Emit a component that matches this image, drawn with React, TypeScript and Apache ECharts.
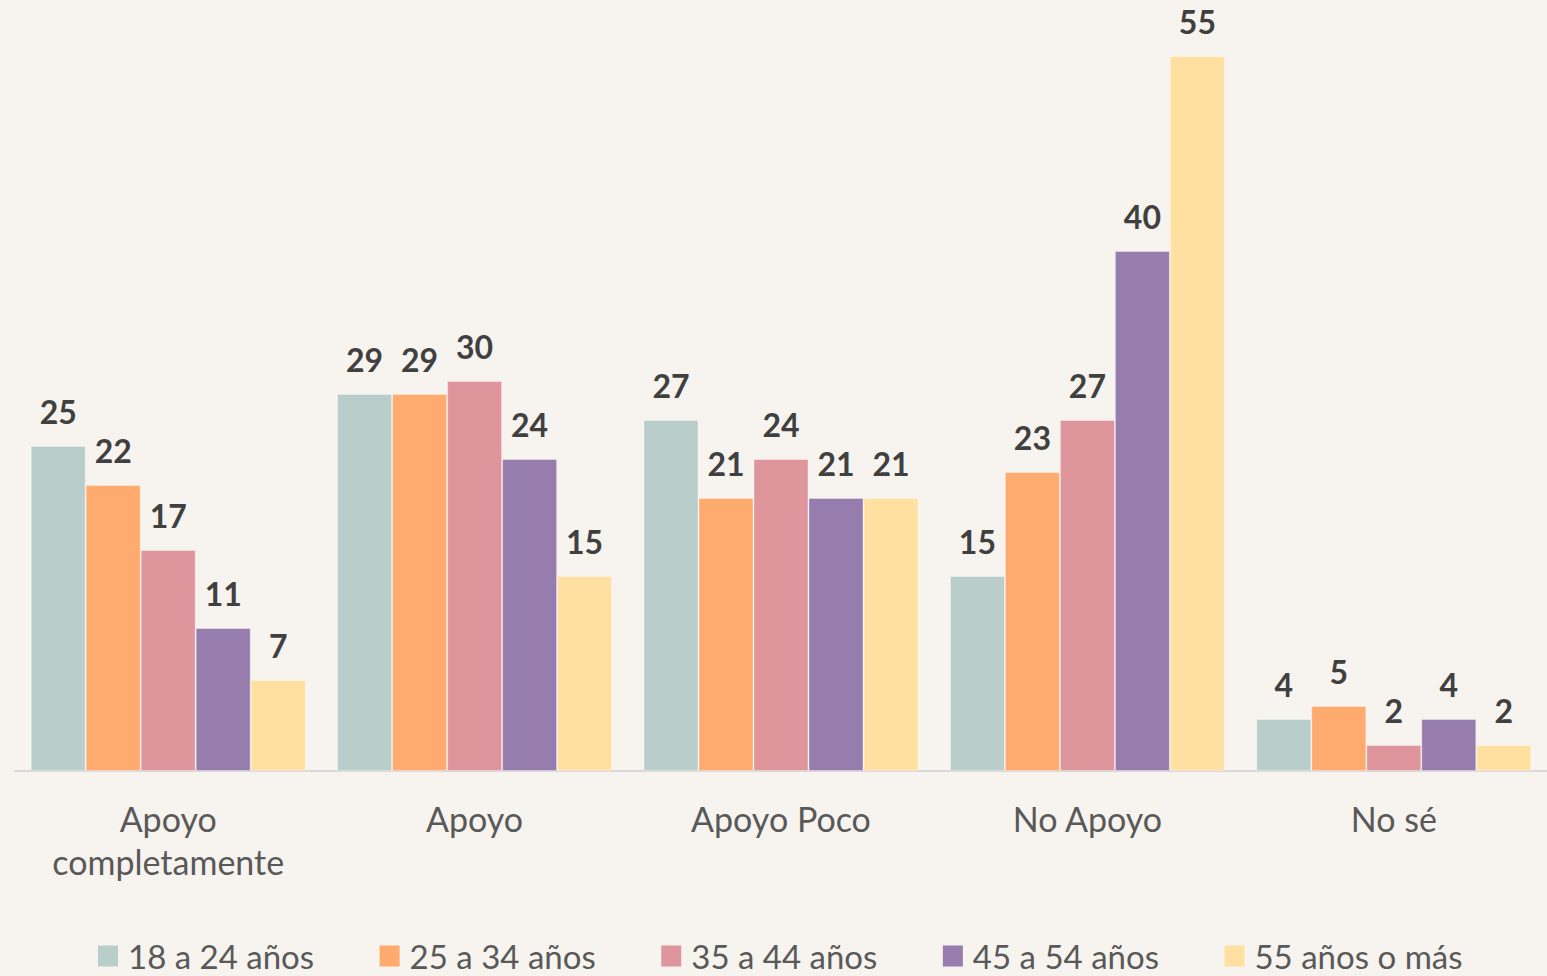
import React, { useEffect, useRef } from "react";
import * as echarts from "echarts";

const categories = ["Apoyo\ncompletamente", "Apoyo", "Apoyo Poco", "No Apoyo", "No sé"];
const seriesNames = ["18 a 24 años", "25 a 34 años", "35 a 44 años", "45 a 54 años", "55 años o más"];
const s18_24 = [25, 29, 27, 15, 4];
const s25_34 = [22, 29, 21, 23, 5];
const s35_44 = [17, 30, 24, 27, 2];
const s45_54 = [11, 24, 21, 40, 4];
const s55plus = [7, 15, 21, 55, 2];
const seriesValues = [s18_24, s25_34, s35_44, s45_54, s55plus];
const colors = ["#b9cdcb", "#ffaa6e", "#de959c", "#977dae", "#ffe0a0"];

export default function App() {
  const ref = useRef<HTMLDivElement>(null);
  useEffect(() => {
    document.body.style.margin = "0";
    const chart = echarts.init(ref.current!, undefined, { renderer: "svg" });
    chart.setOption({
      animation: false,
      backgroundColor: "#f7f4ef",
      textStyle: { fontFamily: "Lato" },
      grid: { left: 15, right: 0, top: 56, bottom: 205 },
      legend: {
        left: 93,
        top: 933,
        itemWidth: 20,
        itemHeight: 21,
        itemGap: 65.5,
        icon: "rect",
        itemStyle: { borderWidth: 0 },
        textStyle: { fontFamily: "Lato", fontSize: 33, lineHeight: 36, color: "#595959", padding: [0, 0, 0, 5] },
        data: seriesNames,
      },
      xAxis: {
        type: "category",
        data: categories,
        axisLine: { lineStyle: { color: "#d9d9d9", width: 2 } },
        axisTick: { show: false },
        axisLabel: { fontFamily: "Lato", fontSize: 34, color: "#595959", lineHeight: 43, margin: 26, interval: 0 },
      },
      yAxis: { type: "value", min: 0, max: 55, show: false, splitLine: { show: false } },
      series: seriesValues.map((vals, i) => ({
        name: seriesNames[i],
        type: "bar",
        data: vals,
        barGap: "0%",
        barCategoryGap: "10.25%",
        itemStyle: { color: colors[i], borderColor: "rgba(255,255,255,0.35)", borderWidth: 1 },
        label: {
          show: true,
          position: "top",
          distance: 19,
          fontFamily: "Lato",
          fontWeight: "bold",
          fontSize: 32,
          color: "#404040",
        },
      })),
    });
    return () => chart.dispose();
  }, []);
  return <div ref={ref} style={{ width: 1547, height: 976 }} />;
}
